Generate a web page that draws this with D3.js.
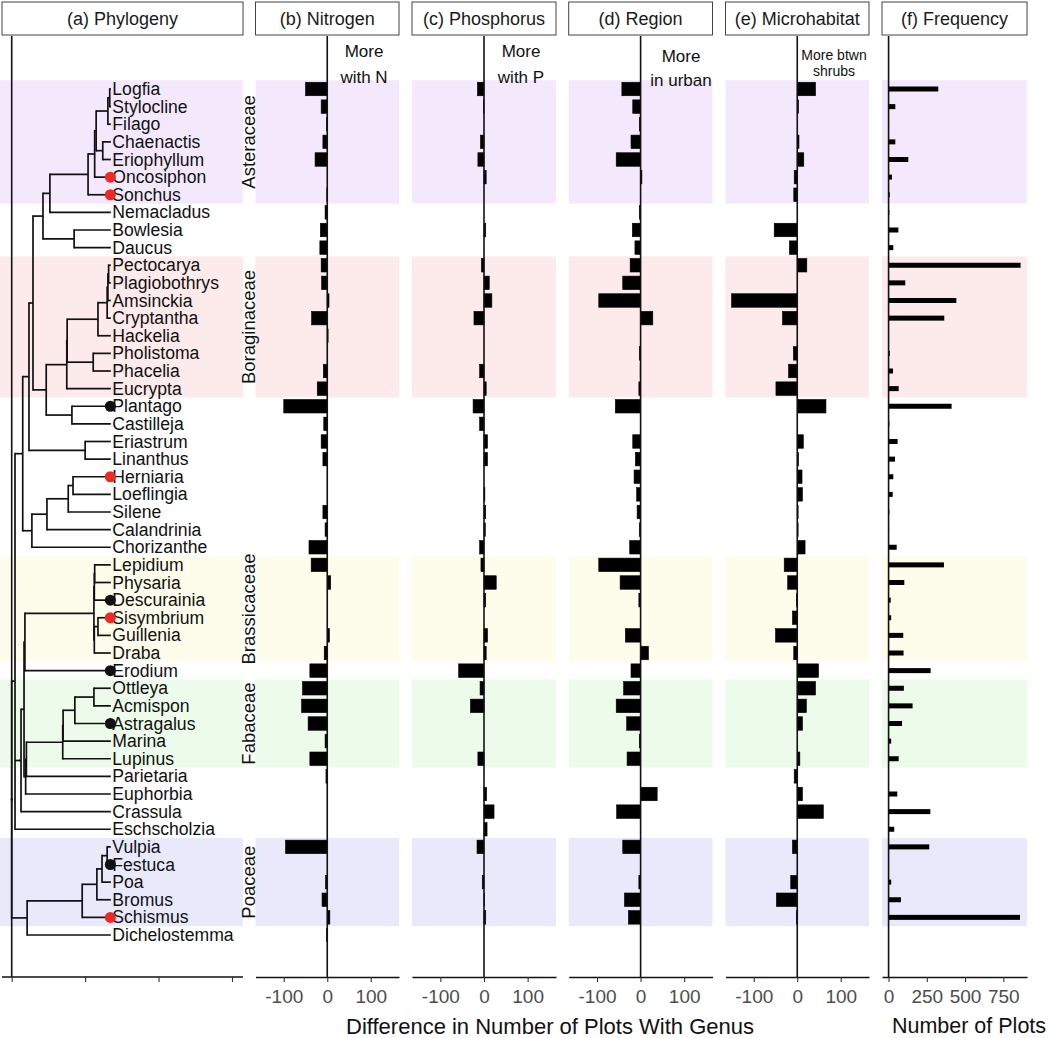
<!DOCTYPE html>
<html><head><meta charset="utf-8">
<script src="https://cdn.jsdelivr.net/npm/d3@7"></script>
<style>
body{margin:0;background:#fff}
svg text{font-family:"Liberation Sans",Arial,Helvetica,sans-serif}
</style>
</head><body>
<svg id="chart" width="1050" height="1038"></svg>
<script>
// ---------------- DATA ----------------
const genera = ["Logfia","Stylocline","Filago","Chaenactis","Eriophyllum","Oncosiphon","Sonchus","Nemacladus","Bowlesia","Daucus","Pectocarya","Plagiobothrys","Amsinckia","Cryptantha","Hackelia","Pholistoma","Phacelia","Eucrypta","Plantago","Castilleja","Eriastrum","Linanthus","Herniaria","Loeflingia","Silene","Calandrinia","Chorizanthe","Lepidium","Physaria","Descurainia","Sisymbrium","Guillenia","Draba","Erodium","Ottleya","Acmispon","Astragalus","Marina","Lupinus","Parietaria","Euphorbia","Crassula","Eschscholzia","Vulpia","Festuca","Poa","Bromus","Schismus","Dichelostemma"];

const nitrogen = [-50,-14,-2,-10,-28,0,-1,-5,-16,-17,-14,-13,4,-36,2,0,-9,-23,-100,-8,-14,-10,0,0,-10,-5,-42,-37,8,0,0,5,-7,-40,-57,-59,-44,-5,-40,-3,0,0,0,-96,0,-4,-12,6,-2];
const phosphorus = [-15,-1,0,-8,-14,5,0,0,4,0,-6,12,18,-23,0,0,-10,5,-25,-10,8,8,0,2,4,3,-10,-7,28,4,0,8,5,-58,-9,-31,0,0,-14,0,6,23,7,-16,0,-4,1,4,0];
const region = [-43,-18,-3,-22,-56,3,0,-3,-19,-13,-24,-41,-96,28,0,-3,-1,-4,-58,0,-18,-12,-15,-9,-8,-3,-25,-96,-47,-4,0,-35,18,-22,-39,-56,-32,-3,-31,0,38,-55,0,-41,0,-4,-37,-28,0];
const microhabitat = [42,3,0,4,15,-7,-8,0,-53,-18,22,0,-151,-34,0,-9,-20,-49,66,0,14,3,11,12,2,2,18,-30,-22,-2,-11,-50,-8,49,42,21,12,0,6,-7,12,60,0,-11,0,-15,-48,-2,0];
const frequency = [325,44,3,44,129,22,8,5,64,31,863,109,443,364,2,8,29,66,412,5,59,42,31,27,5,3,53,362,103,14,17,96,98,275,100,157,88,17,66,3,57,273,37,266,2,17,81,859,2];

const families = ["Asteraceae","Boraginaceae","Brassicaceae","Fabaceae","Poaceae"];
const familyFirst = ["Logfia","Pectocarya","Lepidium","Ottleya","Vulpia"];
const familyLast = ["Sonchus","Eucrypta","Draba","Lupinus","Schismus"];

const redTips = ["Oncosiphon","Sonchus","Herniaria","Sisymbrium","Schismus"];
const blackTips = ["Plantago","Descurainia","Erodium","Astragalus","Festuca"];

const panelTitles = ["(a) Phylogeny","(b) Nitrogen","(c) Phosphorus","(d) Region","(e) Microhabitat","(f) Frequency"];
const noteLines = [["More","with N"],["More","with P"],["More","in urban"],["More btwn","shrubs"]];
const diffTicks = [-100,0,100];
const freqTicks = [0,250,500,750];
const treeTicks = [0,100,200,300];
const xTitleDiff = "Difference in Number of Plots With Genus";
const xTitleFreq = "Number of Plots";

// phylogeny (internal node labels = node depth on tree axis)
const tipDepth = 135;
const newick =
 "(((((((((((((((Logfia,Stylocline)133.5,Filago)131,(Chaenactis,Eriophyllum)124)115,Oncosiphon)113,Sonchus)104,Nemacladus)52,(Bowlesia,Daucus)85)42.6," +
 "(((((((Pectocarya,Plagiobothrys)132,Amsinckia)131,Cryptantha)130,Hackelia)117.5,(Pholistoma,Phacelia)111)75.5,Eucrypta)75,(Plantago,Castilleja)82)47)29," +
 "(Eriastrum,Linanthus)100)23.5,((((Herniaria,Loeflingia)83.5,Silene)77,Calandrinia)48,Chorizanthe)27.5)15," +
 "(((((((Lepidium,Physaria)113,Descurainia)112.5,((Sisymbrium,Guillenia)117.5,Draba)112.5)112,Erodium)18," +
 "((((((Ottleya,Acmispon)112,Astragalus)86,Marina)70,Lupinus)69.5,Parietaria)20,Euphorbia)19)16.8,Crassula)12.7)11,Eschscholzia)4.5," +
 "(((((Vulpia,Festuca)130,Poa)123,Bromus)116,Schismus)96,Dichelostemma)21)0";

// ---------------- LAYOUT / STYLE ----------------
const bandColors = ["#f4e9fc","#fdeaea","#fefdec","#edfcea","#e9e9fc"];
const plotTop = 36, axisY = 977;
const svg = d3.select("#chart");

const y = d3.scalePoint().domain(genera).range([89, 935]);
const step = y.step();

const panelA = [2, 243];
const xTree = d3.scaleLinear().domain([0,300]).range([11.7, 232]);
const diffRanges = [[255.5,399],[412,556],[568.7,712.5],[725.5,869]];
const diffSeries = [nitrogen, phosphorus, region, microhabitat];
const xDiff = diffRanges.map(r => d3.scaleLinear().domain([-165,165]).range(r));
const xFreq = d3.scaleLinear().domain([-43,905]).range([882,1027]);

const panelRanges = [panelA].concat(diffRanges, [[882,1027]]);

// ---- background family bands ----
families.forEach((f,i) => {
  const y0 = y(familyFirst[i]) - step/2, y1 = y(familyLast[i]) + step/2;
  panelRanges.forEach((r,k) => {
    svg.append("rect").attr("x", k===0 ? 0 : r[0]).attr("y", y0)
      .attr("width", r[1] - (k===0 ? 0 : r[0])).attr("height", y1 - y0)
      .attr("fill", bandColors[i]);
  });
  svg.append("text").attr("transform", `translate(248,${(y0+y1)/2}) rotate(-90)`)
    .attr("text-anchor","middle").attr("dominant-baseline","central")
    .attr("font-size", 18.5).attr("fill","#111").text(f);
});

// ---- header strips ----
panelRanges.forEach((r,k) => {
  svg.append("rect").attr("x", r[0]).attr("y", 2).attr("width", r[1]-r[0]).attr("height", 33)
    .attr("fill","#fff").attr("stroke","#444").attr("stroke-width",1);
  svg.append("text").attr("x",(r[0]+r[1])/2).attr("y",19).attr("text-anchor","middle")
    .attr("dominant-baseline","central").attr("font-size",18).attr("fill","#1a1a1a").text(panelTitles[k]);
});

// ---- phylogeny ----
function parseNewick(s){
  let i = 0;
  function node(){
    const n = {children:[]};
    if (s[i] === "("){
      i++; n.children.push(node());
      while (s[i] === ","){ i++; n.children.push(node()); }
      i++;
    }
    const m = /^[^,();]*/.exec(s.slice(i))[0];
    i += m.length;
    if (n.children.length) n.depth = +m; else { n.name = m; n.depth = tipDepth; }
    return n;
  }
  return node();
}
const tree = parseNewick(newick);
function setY(n){
  if (!n.children.length) { n.y = y(n.name); return n.y; }
  n.y = d3.mean(n.children.map(setY));
  return n.y;
}
setY(tree);
const treeG = svg.append("g").attr("stroke","#111").attr("stroke-width",1.7).attr("fill","none");
(function draw(n){
  if (!n.children.length) return;
  const ys = n.children.map(c => c.y);
  treeG.append("line").attr("x1",xTree(n.depth)).attr("x2",xTree(n.depth))
    .attr("y1",d3.min(ys)-0.85).attr("y2",d3.max(ys)+0.85);
  n.children.forEach(c => {
    treeG.append("line").attr("x1",xTree(n.depth)).attr("x2",xTree(c.depth))
      .attr("y1",c.y).attr("y2",c.y);
    draw(c);
  });
})(tree);

svg.append("g").selectAll("text").data(genera).join("text")
  .attr("x", xTree(tipDepth)+1.5).attr("y", d => y(d)).attr("dominant-baseline","central")
  .attr("font-size",17.6).attr("fill","#111").text(d => d);

svg.append("g").selectAll("circle").data(redTips).join("circle")
  .attr("cx", xTree(tipDepth)-0.5).attr("cy", d => y(d)).attr("r",5.5).attr("fill","#ee2a22");
svg.append("g").selectAll("circle").data(blackTips).join("circle")
  .attr("cx", xTree(tipDepth)-0.5).attr("cy", d => y(d)).attr("r",5.5).attr("fill","#111");

// zero line panel a
svg.append("line").attr("x1",xTree(0)).attr("x2",xTree(0)).attr("y1",plotTop).attr("y2",axisY)
  .attr("stroke","#111").attr("stroke-width",1.6);

function styleAxis(g){
  g.select(".domain").attr("stroke","#111").attr("stroke-width",1.4);
  g.selectAll(".tick line").attr("stroke","#333").attr("stroke-width",1.1);
  g.selectAll(".tick text").attr("font-size",19).attr("fill","#4d4d4d")
    .attr("font-family","'Liberation Sans',Arial,sans-serif");
}
const fmt = d => String(d);

const axA = svg.append("g").attr("transform",`translate(0,${axisY})`)
  .call(d3.axisBottom(xTree).tickValues(treeTicks).tickSize(5).tickSizeOuter(0).tickFormat(""));
axA.select(".domain").attr("d",`M${panelA[0]},0H${panelA[1]}`);
styleAxis(axA);

// ---- difference panels ----
diffSeries.forEach((vals,k) => {
  const xs = xDiff[k];
  const g = svg.append("g");
  g.selectAll("rect").data(genera.map((gname,i) => ({g:gname, v:vals[i]})).filter(d => d.v !== 0))
    .join("rect")
    .attr("x", d => Math.min(xs(0), xs(d.v))).attr("width", d => Math.abs(xs(d.v)-xs(0)))
    .attr("y", d => y(d.g) - 6.75).attr("height", 13.5)
    .attr("fill","#000").attr("stroke","#000").attr("stroke-width",0.6);
  svg.append("line").attr("x1",xs(0)).attr("x2",xs(0)).attr("y1",plotTop).attr("y2",axisY)
    .attr("stroke","#111").attr("stroke-width",1.6);
  const ax = svg.append("g").attr("transform",`translate(0,${axisY})`)
    .call(d3.axisBottom(xs).tickValues(diffTicks).tickSize(5).tickSizeOuter(0).tickPadding(8).tickFormat(fmt));
  styleAxis(ax);
  const note = noteLines[k];
  const small = k === 3;
  const cx = [364, 521, 681, 834][k];
  const ys0 = small ? [55, 71] : (k === 2 ? [56, 80] : [51, 77]);
  note.forEach((t,j) => {
    svg.append("text").attr("x",cx).attr("y",ys0[j]).attr("text-anchor","middle")
      .attr("dominant-baseline","central").attr("font-size", small ? 14 : 17)
      .attr("font-family","Lato,'Open Sans',sans-serif").attr("fill","#111").text(t);
  });
});

// ---- frequency panel ----
svg.append("g").selectAll("rect").data(genera.map((gname,i) => ({g:gname, v:frequency[i]})))
  .join("rect")
  .attr("x", xFreq(0)).attr("width", d => xFreq(d.v) - xFreq(0))
  .attr("y", d => y(d.g) - 2.5).attr("height", 5).attr("fill","#000");
svg.append("line").attr("x1",xFreq(0)).attr("x2",xFreq(0)).attr("y1",plotTop).attr("y2",axisY)
  .attr("stroke","#111").attr("stroke-width",1.6);
const axF = svg.append("g").attr("transform",`translate(0,${axisY})`)
  .call(d3.axisBottom(xFreq).tickValues(freqTicks).tickSize(5).tickSizeOuter(0).tickPadding(8).tickFormat(fmt));
styleAxis(axF);

// ---- axis titles ----
svg.append("text").attr("x",550).attr("y",1026).attr("text-anchor","middle")
  .attr("dominant-baseline","central").attr("font-size",22).attr("fill","#111").text(xTitleDiff);
svg.append("text").attr("x",969).attr("y",1026).attr("text-anchor","middle")
  .attr("dominant-baseline","central").attr("font-size",21.5).attr("fill","#111").text(xTitleFreq);
</script>
</body></html>
